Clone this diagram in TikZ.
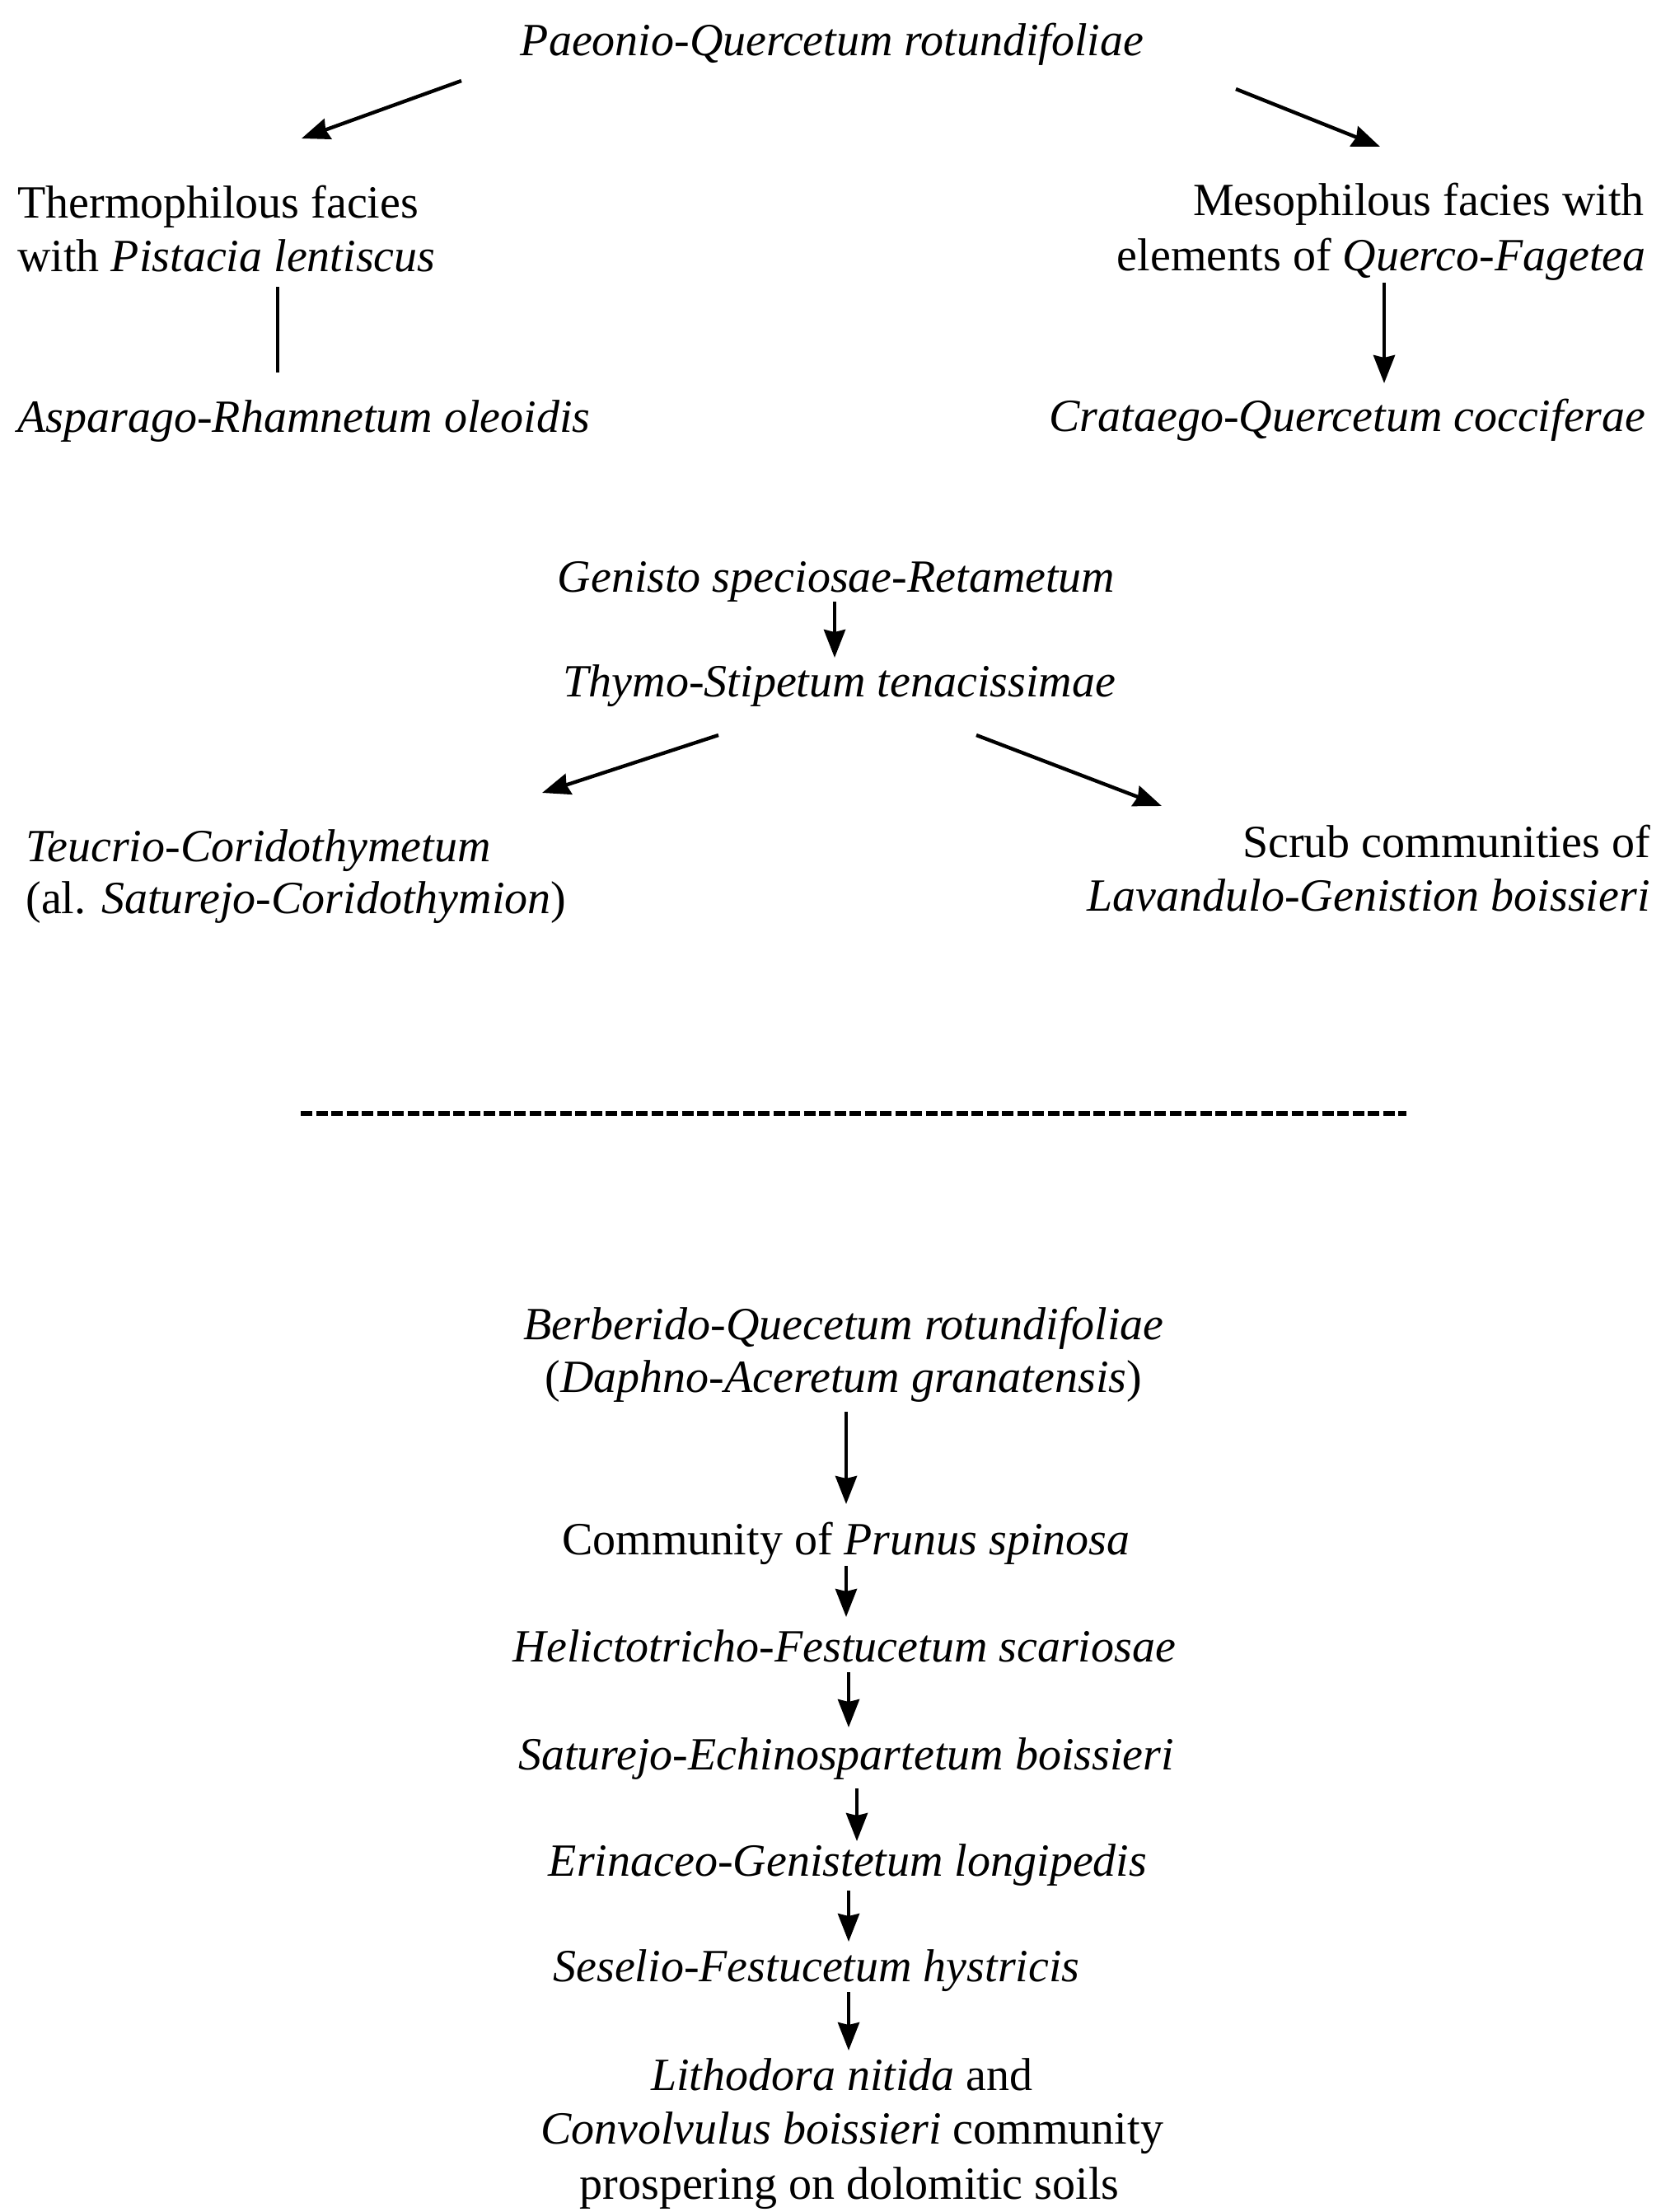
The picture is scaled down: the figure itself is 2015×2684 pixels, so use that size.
\documentclass[tikz,border=0pt]{standalone}
\usepackage{fontspec}
\setmainfont{Liberation Serif}
\usetikzlibrary{arrows.meta}
\begin{document}
\begin{tikzpicture}[x=0.5pt,y=-0.5pt,
  txt/.style={font=\fontsize{28}{32.5}\selectfont, inner sep=0pt, anchor=base},
  lft/.style={txt, anchor=base west},
  rgt/.style={txt, anchor=base east},
  arr/.style={line width=2.2pt, -{Stealth[length=17pt,width=13pt,inset=1.5pt]}},
  plain/.style={line width=2.2pt},
  sep/.style={line width=3pt, dash pattern=on 7pt off 2.25pt}]
\useasboundingbox (0,0) rectangle (2015,2684);
% top block
\node[txt] (top) at (1010,67) {\textit{Paeonio-Quercetum rotundifoliae}};
\node[lft] (therm1) at (21,264) {Thermophilous facies};
\node[lft] (therm2) at (21,329) {with \textit{Pistacia lentiscus}};
\node[lft] (aspar) at (21,524) {\textit{Asparago-Rhamnetum oleoidis}};
\node[rgt] (meso1) at (1996,261) {Mesophilous facies with};
\node[rgt] (meso2) at (1998,328) {elements of \textit{Querco-Fagetea}};
\node[rgt] (crat) at (1998,523) {\textit{Crataego-Quercetum cocciferae}};
\coordinate (a1s) at (560,98);   \coordinate (a1e) at (366,168);
\coordinate (a2s) at (1500,108); \coordinate (a2e) at (1675,178);
\coordinate (l1s) at (337,348);  \coordinate (l1e) at (337,452);
\coordinate (a3s) at (1680,343); \coordinate (a3e) at (1680,465);
\draw[arr] (a1s) -- (a1e);
\draw[arr] (a2s) -- (a2e);
\draw[plain] (l1s) -- (l1e);
\draw[arr] (a3s) -- (a3e);
% middle block
\node[txt] (genisto) at (1015,718) {\textit{Genisto speciosae-Retametum}};
\node[txt] (thymo) at (1019,845) {\textit{Thymo-Stipetum tenacissimae}};
\node[lft] (teuc1) at (31,1045) {\textit{Teucrio-Coridothymetum}};
\node[lft] (teuc2) at (31,1108) {(al. \textit{Saturejo-Coridothymion})};
\node[rgt] (scrub1) at (2003,1040) {Scrub communities of};
\node[rgt] (scrub2) at (2003,1105) {\textit{Lavandulo-Genistion boissieri}};
\coordinate (a4s) at (1013,730);  \coordinate (a4e) at (1013,798);
\coordinate (a5s) at (872,892);   \coordinate (a5e) at (658,962);
\coordinate (a6s) at (1185,892);  \coordinate (a6e) at (1410,978);
\draw[arr] (a4s) -- (a4e);
\draw[arr] (a5s) -- (a5e);
\draw[arr] (a6s) -- (a6e);
% separator
\coordinate (d1) at (365,1351); \coordinate (d2) at (1707,1351);
\draw[sep] (d1) -- (d2);
% bottom block
\node[txt] (berb1) at (1024,1625) {\textit{Berberido-Quecetum rotundifoliae}};
\node[txt] (berb2) at (1024,1689) {(\textit{Daphno-Aceretum granatensis})};
\node[txt] (comm) at (1027,1886) {Community of \textit{Prunus spinosa}};
\node[txt] (helic) at (1025,2016) {\textit{Helictotricho-Festucetum scariosae}};
\node[txt] (satur) at (1027,2147) {\textit{Saturejo-Echinospartetum boissieri}};
\node[txt] (erin) at (1029,2276) {\textit{Erinaceo-Genistetum longipedis}};
\node[txt] (sesel) at (991,2404) {\textit{Seselio-Festucetum hystricis}};
\node[txt] (lith1) at (1022,2536) {\textit{Lithodora nitida} and};
\node[txt] (lith2) at (1034,2601) {\textit{Convolvulus boissieri} community};
\node[txt] (lith3) at (1031,2668) {prospering on dolomitic soils};
\coordinate (b1s) at (1027,1713); \coordinate (b1e) at (1027,1825);
\coordinate (b2s) at (1027,1900); \coordinate (b2e) at (1027,1962);
\coordinate (b3s) at (1030,2029); \coordinate (b3e) at (1030,2096);
\coordinate (b4s) at (1040,2170); \coordinate (b4e) at (1040,2234);
\coordinate (b5s) at (1030,2294); \coordinate (b5e) at (1030,2356);
\coordinate (b6s) at (1030,2417); \coordinate (b6e) at (1030,2488);
\draw[arr] (b1s) -- (b1e);
\draw[arr] (b2s) -- (b2e);
\draw[arr] (b3s) -- (b3e);
\draw[arr] (b4s) -- (b4e);
\draw[arr] (b5s) -- (b5e);
\draw[arr] (b6s) -- (b6e);
\end{tikzpicture}
\end{document}
